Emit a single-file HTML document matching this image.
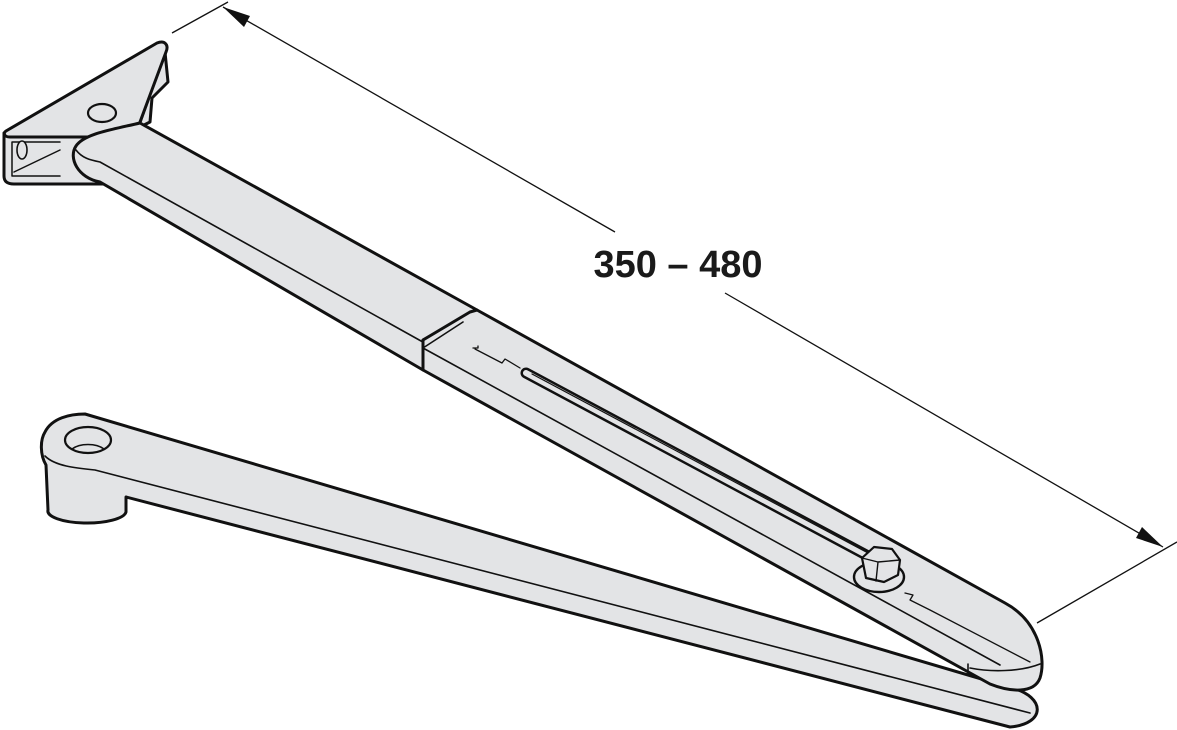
<!DOCTYPE html>
<html><head><meta charset="utf-8"><style>
html,body{margin:0;padding:0;background:#fff;}
svg{display:block}
</style></head><body>
<svg width="1177" height="730" viewBox="0 0 1177 730" xmlns="http://www.w3.org/2000/svg">
<g stroke="#111" stroke-linejoin="round" stroke-linecap="round" fill="#e3e4e6">
<!-- lower arm -->
<path stroke-width="3" d="M85,414 L1012,688 C1046,697 1046,724 1010,727 L126,497 L126,512 A39,12 0 0 1 48,510 L46,465 C40,455 40,440 45,432 C52,418 70,414 85,414 Z"/>
<path fill="none" stroke-width="1.6" d="M45,456 C55,466 75,468 95,470 L1030,713"/>
<ellipse cx="88" cy="440" rx="23" ry="13" stroke-width="2.2"/>
<path fill="none" stroke-width="1.5" d="M72,449 C80,443 96,443 104,449"/>
<!-- bracket -->
<path stroke-width="3" d="M4,133 L4,176 C4,182 8,184 14,184 L104,184 L104,140 L70,133 Z"/>
<path fill="none" stroke-width="1.5" d="M12,142 L12,176 L60,176 M12,142 L60,142 M14,172 L60,150"/>
<ellipse cx="22" cy="150" rx="5" ry="9" stroke-width="1.6"/>
<path stroke-width="3" d="M165,52 L168,82 L152,98 L150,122 L138,128 Z"/>
<path stroke-width="3" d="M6,131 L157,43 C165,40 169,45 166,52 L140,122 C134,134 126,137 116,137 L10,137 C4,137 3,133 6,131 Z"/>
<ellipse cx="102" cy="113" rx="14" ry="9" stroke-width="2.2"/>
<!-- rod -->
<path stroke-width="3" d="M100,182 C78,178 68,158 76,146 C84,134 110,130 140,123 L477,310 L423,340 L423,370 Z"/>
<path fill="none" stroke-width="1.6" d="M76,150 C82,158 90,160 100,162 L430,346"/>
<!-- sleeve -->
<path stroke-width="3" d="M423,340 L470,312 L477,310 L1005,603 C1040,622 1046,660 1040,678 C1034,694 1010,692 990,684 L423,370 Z"/>
<path fill="none" stroke-width="1.6" d="M423,348 L463,322 M423,348 L1000,665 M970,668 C990,672 1020,672 1040,664 M968,664 L968,674"/>
<path fill="none" stroke-width="1.3" d="M473,348 L478,348 L478,346 M475,349 L502,363 L505,359 L520,368 M905,593 L913,595 L910,600 L930,610 M930,610 L1030,662"/>
<!-- slot -->
<path stroke-width="11" stroke="#111" fill="none" d="M526,373 L868,556"/>
<path stroke-width="6" stroke="#e3e4e6" fill="none" d="M526,373 L868,556"/>
<path stroke-width="1.2" fill="none" d="M532,374 L868,553"/>
<!-- bolt -->
<ellipse cx="879" cy="577" rx="25" ry="15" stroke-width="2.4"/>
<path stroke-width="2.2" d="M862,558 L874,547 L892,549 L900,560 L898,575 L884,582 L866,578 Z"/>
<path fill="none" stroke-width="1.4" d="M862,558 L878,562 L900,560 M878,562 L876,581"/>
</g>
<!-- dimension -->
<g stroke="#111" stroke-width="1.3" fill="none">
<line x1="172" y1="33" x2="228" y2="2"/>
<line x1="1037" y1="623" x2="1177" y2="542"/>
<line x1="223" y1="7" x2="615" y2="232"/>
<line x1="725" y1="293" x2="1163" y2="547"/>
</g>
<polygon points="223,7 250,16 244,27" fill="#111"/>
<polygon points="1163,547 1136,538 1142,527" fill="#111"/>
<text x="678" y="277" text-anchor="middle" font-family="Liberation Sans, sans-serif" font-weight="bold" font-size="38" fill="#1a1a1a">350 – 480</text>
</svg>
</body></html>
